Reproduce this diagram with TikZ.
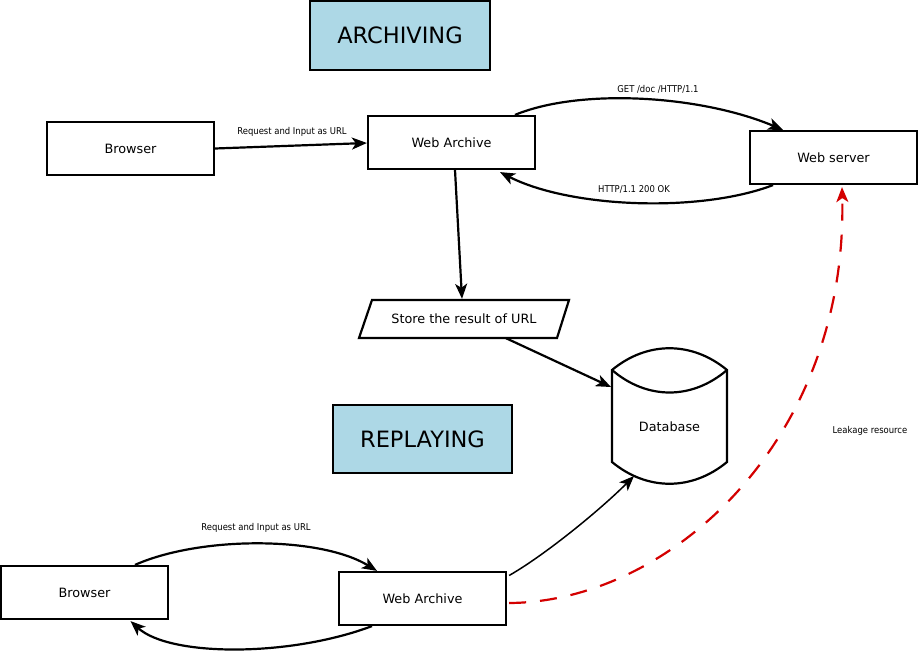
\documentclass[tikz,border=0pt]{standalone}
\usepackage{fontspec}
\setmainfont{DejaVu Sans}
\newfontfamily\smallfont{DejaVu Sans Condensed}
\usetikzlibrary{arrows.meta,calc}
\definecolor{lblue}{HTML}{ADD8E6}
\definecolor{dred}{HTML}{D40000}
\begin{document}
\begin{tikzpicture}[x=1pt,y=-1pt,
  box/.style={draw,line width=2.2pt,minimum width=167pt,minimum height=53pt,inner sep=0pt,font=\fontsize{12.8}{15}\selectfont},
  titlebox/.style={draw,line width=2.2pt,fill=lblue,inner sep=0pt,font=\fontsize{22.5}{26}\selectfont},
  plain/.style={inner sep=0pt,font=\fontsize{12.8}{15}\selectfont},
  arr/.style={line width=2.2pt,-{Stealth[length=15pt,width=12pt,inset=4pt]}},
  thinarr/.style={line width=1.5pt,-{Stealth[length=15pt,width=12pt,inset=4pt]}},
  leak/.style={line width=2.2pt,dred,dash pattern=on 17pt off 14pt,-{Stealth[length=15pt,width=12pt,inset=4pt]}},
  lbl/.style={inner sep=0pt,font=\smallfont\fontsize{9.4}{11}\selectfont}]
\useasboundingbox (0,0) rectangle (920,652);
\fill[white] (0,0) rectangle (920,652);

% titles
\node[titlebox,minimum width=180pt,minimum height=69pt] (arch) at (400,35.5) {ARCHIVING};
\node[titlebox,minimum width=179pt,minimum height=68pt] (rep) at (422.5,439) {REPLAYING};

% archiving boxes
\node[box] (br1) at (130.5,148.5) {Browser};
\node[box] (wa1) at (451.5,142.5) {Web Archive};
\node[box] (ws) at (833.5,157.5) {Web server};

% store parallelogram
\node[plain,minimum width=185pt,minimum height=38pt] (store) at (464,319) {Store the result of URL};
\draw[line width=2.2pt,line join=miter] (372,300) -- (569,300) -- (557,338) -- (359,338) -- cycle;

% database cylinder
\node[plain] (db) at (669.5,427) {Database};
\draw[line width=2.2pt] (612,370) .. controls (647,341) and (692,341) .. (727,370) -- (727,462)
  .. controls (692,491) and (647,491) .. (612,462) -- cycle;
\draw[line width=2.2pt] (612,370) .. controls (647,400) and (692,400) .. (727,370);
\coordinate (dbin) at (611,387);
\coordinate (dbbot) at (634,476);

% replaying boxes
\node[box] (br2) at (84.5,592.5) {Browser};
\node[box] (wa2) at (422.5,598.5) {Web Archive};

% archiving connectors
\draw[arr] (br1.east) -- ($(wa1.west)+(0,0.5)$);
\node[lbl] at (292,132) {Request and Input as URL};
\draw[arr] ($(wa1.north)+(63.5,0)$) .. controls (580,88) and (700,95) .. ($(ws.north)+(-50.5,0)$);
\node[lbl] at (658,89) {GET /doc /HTTP/1.1};
\draw[arr] ($(ws.south)+(-60.5,0)$) .. controls (700,213) and (570,208) .. ($(wa1.south)+(48.5,2)$);
\node[lbl] at (634,189) {HTTP/1.1 200 OK};
\draw[arr] ($(wa1.south)+(3.5,0)$) -- ($(store.north)+(-2,-1)$);
\draw[arr] ($(store.south)+(42,0)$) -- (dbin);

% replaying connectors
\draw[arr] ($(br2.north)+(50.5,0)$) .. controls (200,536) and (320,536) .. ($(wa2.north)+(-45.5,0)$);
\node[lbl] at (256,528) {Request and Input as URL};
\draw[arr] ($(wa2.south)+(-50.5,0)$) .. controls (290,657) and (170,657) .. ($(br2.south)+(46,1)$);
\draw[thinarr] ($(wa2.east)+(2,-23)$) .. controls (545,555) and (600,510) .. (dbbot);
\draw[leak] ($(wa2.east)+(2,4.5)$) .. controls (670,602) and (848,440) .. ($(ws.south)+(8.5,2)$);
\node[lbl] at (870,431) {Leakage resource};
\end{tikzpicture}
\end{document}
